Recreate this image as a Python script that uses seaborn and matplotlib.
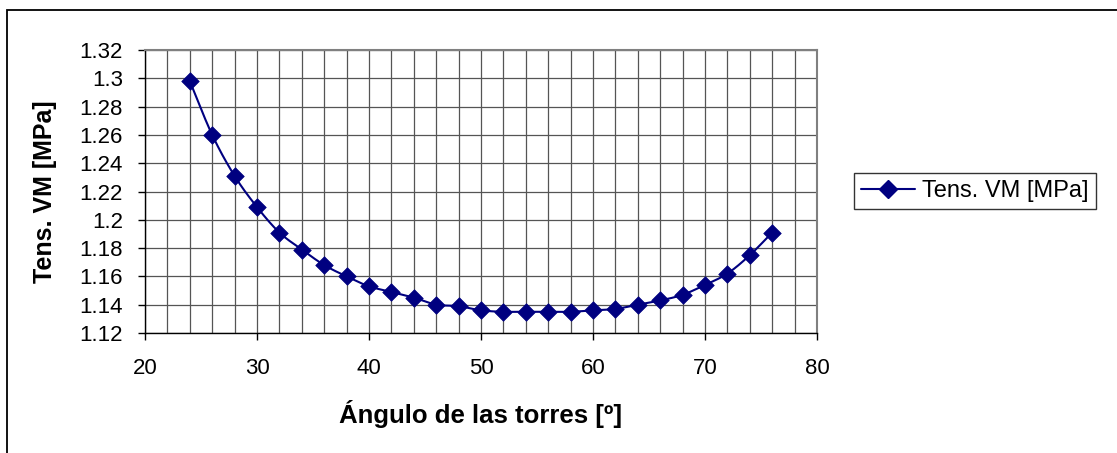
import numpy as np
import pandas as pd
import matplotlib
matplotlib.use("Agg")
import matplotlib.pyplot as plt
from matplotlib.lines import Line2D
from matplotlib.patches import Rectangle
from matplotlib.ticker import MultipleLocator
import seaborn as sns

# Tower angle (degrees) and Von Mises stress (MPa)
angulo = [24, 26, 28, 30, 32, 34, 36, 38, 40, 42, 44, 46, 48, 50,
          52, 54, 56, 58, 60, 62, 64, 66, 68, 70, 72, 74, 76]
tension = [1.298, 1.260, 1.231, 1.209, 1.191, 1.179, 1.168, 1.160, 1.153,
           1.149, 1.145, 1.140, 1.139, 1.136, 1.135, 1.135, 1.135, 1.135,
           1.136, 1.137, 1.140, 1.143, 1.147, 1.154, 1.162, 1.175, 1.191]
serie = "Tens. VM [MPa]"
x_ticks = [20, 30, 40, 50, 60, 70, 80]
y_ticks = [1.12, 1.14, 1.16, 1.18, 1.2, 1.22, 1.24, 1.26, 1.28, 1.3, 1.32]

sns.set_theme(style="white")
plt.rcParams["font.family"] = ["Liberation Sans", "DejaVu Sans"]
plt.rcParams["text.color"] = "black"
plt.rcParams["axes.labelcolor"] = "black"

df = pd.DataFrame({"angulo": angulo, "tension": tension})


def catmull_rom(x, y, n=20):
    """Smooth curve through the points (uniform Catmull-Rom spline)."""
    x = np.asarray(x, float)
    y = np.asarray(y, float)
    px = np.concatenate([[2 * x[0] - x[1]], x, [2 * x[-1] - x[-2]]])
    py = np.concatenate([[2 * y[0] - y[1]], y, [2 * y[-1] - y[-2]]])
    xs, ys = [], []
    t = np.linspace(0, 1, n, endpoint=False)
    for i in range(1, len(px) - 2):
        for p, out in ((px, xs), (py, ys)):
            p0, p1, p2, p3 = p[i - 1], p[i], p[i + 1], p[i + 2]
            out.append(0.5 * ((2 * p1) + (-p0 + p2) * t
                              + (2 * p0 - 5 * p1 + 4 * p2 - p3) * t ** 2
                              + (-p0 + 3 * p1 - 3 * p2 + p3) * t ** 3))
    xs.append([x[-1]])
    ys.append([y[-1]])
    return np.concatenate(xs), np.concatenate(ys)


fig = plt.figure(figsize=(11.17, 4.53), dpi=100)
fig.patch.set_facecolor("white")
fig.patches.append(Rectangle((7 / 1117, -0.05), 1.2, 1 - 10 / 453 + 0.05,
                             transform=fig.transFigure, fill=False,
                             edgecolor="black", linewidth=1.3))

ax = fig.add_axes([145 / 1117, 1 - 333 / 453, (817 - 145) / 1117, (333 - 50) / 453])
ax.set_facecolor("white")

color = "#000080"
sx, sy = catmull_rom(df["angulo"], df["tension"])
sns.lineplot(x=sx, y=sy, ax=ax, color=color, linewidth=1.5, sort=False,
             estimator=None, legend=False)
sns.scatterplot(data=df, x="angulo", y="tension", ax=ax, marker="D", s=80,
                color=color, edgecolor=color, linewidth=0.5, legend=False,
                zorder=5)

ax.set_xlim(20, 80)
ax.set_ylim(1.12, 1.32)
ax.set_xticks(x_ticks)
ax.set_xticklabels([str(v) for v in x_ticks])
ax.set_yticks(y_ticks)
ax.set_yticklabels([f"{v:g}" for v in y_ticks])
ax.xaxis.set_minor_locator(MultipleLocator(2))
ax.grid(True, which="both", axis="x", color="#555555", linewidth=0.9)
ax.grid(True, which="major", axis="y", color="#555555", linewidth=0.9)
ax.set_axisbelow(True)

for side in ("top", "right"):
    ax.spines[side].set_color("#808080")
    ax.spines[side].set_linewidth(1.5)
for side in ("left", "bottom"):
    ax.spines[side].set_color("black")
    ax.spines[side].set_linewidth(1.0)

ax.tick_params(axis="both", which="major", direction="out", length=5, width=1,
               color="black", labelsize=16, labelcolor="black",
               left=True, bottom=True)
ax.tick_params(axis="y", which="major", pad=11)
ax.tick_params(axis="x", which="major", pad=13)
ax.tick_params(axis="x", which="minor", length=0)

ax.set_xlabel("Ángulo de las torres [º]", fontsize=18.5, fontweight="bold",
              labelpad=15, color="black")
ax.set_ylabel(serie, fontsize=18, fontweight="bold", labelpad=16,
              color="black")

handle = Line2D([], [], color=color, linewidth=1.5, marker="D", markersize=9,
                markerfacecolor=color, markeredgecolor=color)
leg = fig.legend([handle], [serie], loc="center left",
                 bbox_to_anchor=(854 / 1117, 1 - 191 / 453), fontsize=17,
                 frameon=True, fancybox=False, borderpad=0.3,
                 handlelength=2.3, handletextpad=0.3, borderaxespad=0,
                 labelcolor="black")
leg.get_frame().set_edgecolor("black")
leg.get_frame().set_linewidth(1.0)

fig.savefig("out.png", dpi=100, facecolor="white")
